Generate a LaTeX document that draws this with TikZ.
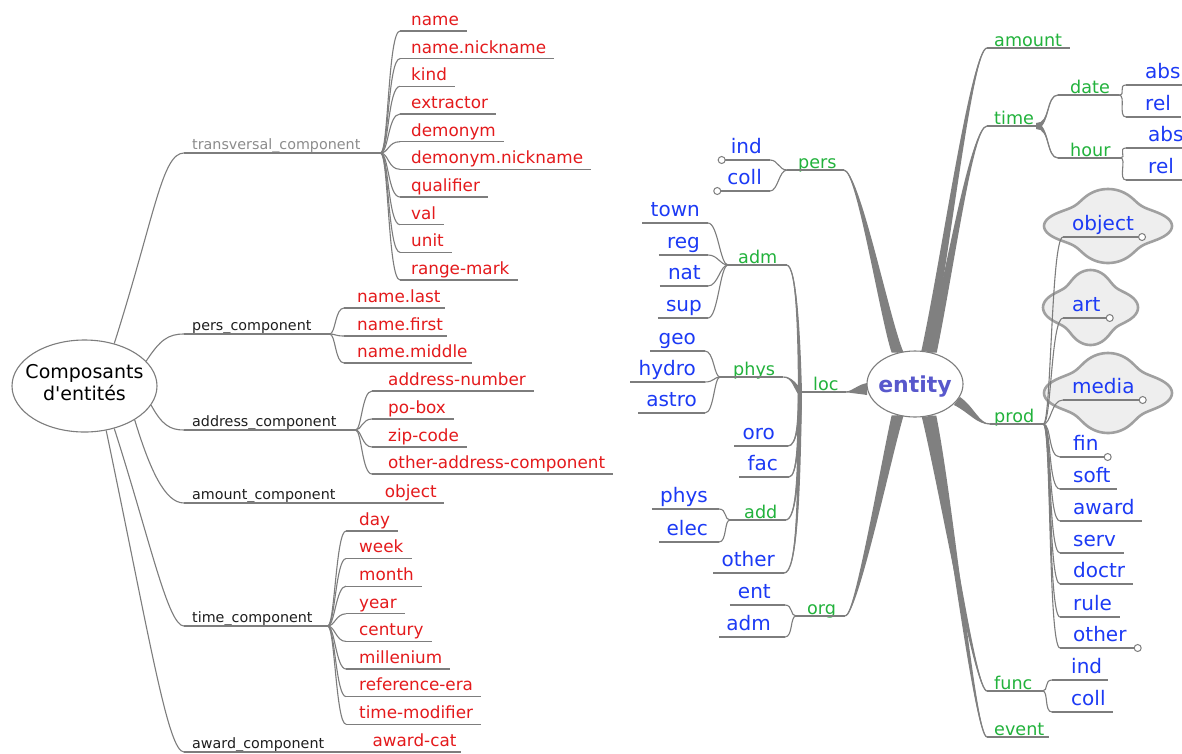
\documentclass[tikz,border=0pt]{standalone}
\usepackage{fontspec}
\setmainfont{DejaVu Sans}
\usetikzlibrary{calc,shapes.geometric}
\pgfdeclarelayer{bg}
\pgfsetlayers{bg,main}
\definecolor{lred}{RGB}{228,26,28}
\definecolor{lgreen}{RGB}{34,178,60}
\definecolor{lblue}{RGB}{28,58,245}
\definecolor{lblack}{RGB}{30,30,30}
\definecolor{tgray}{RGB}{140,140,140}
\definecolor{lgray}{RGB}{125,125,125}
\definecolor{cgray}{RGB}{128,128,128}
\definecolor{entc}{RGB}{88,88,204}
\definecolor{cloudfill}{RGB}{238,238,238}
\definecolor{cloudline}{RGB}{160,160,160}
\tikzset{
  pads/.style 2 args={execute at begin node={\hspace*{#1pt}}, execute at end node={\hspace*{#2pt}}},
  lblbase/.style={inner xsep=0pt, text depth=0pt},
  redl/.style={lblbase, text=lred, font=\fontsize{16.8}{19}\selectfont, inner ysep=5.5pt},
  blkl/.style={lblbase, text=lblack, font=\fontsize{14.3}{17}\selectfont, inner ysep=3pt},
  grnl/.style={lblbase, text=lgreen, font=\fontsize{17.6}{20}\selectfont, inner ysep=1.5pt},
  blul/.style={lblbase, text=lblue, font=\fontsize{20}{23}\selectfont, inner ysep=6.5pt},
  ul/.style={draw=lgray, line width=1.1pt},
  link/.style={draw=lgray, line width=1.1pt},
  conn/.style={fill=cgray},
  connl/.style={draw=cgray, line width=1.3pt},
  fold/.style={draw=lgray, fill=white, line width=1pt},
  cloudst/.style={fill=cloudfill, draw=cloudline, line width=2.6pt, line join=round},
}
% label node with underline
\newcommand\lab[6]{%
  \node[#1, anchor=#2, pads=#5] (#3) at #4 {#6};
  \draw[ul] (#3.south west) -- (#3.south east);
}
% tapered connector, thick at #1
\newcommand\taper[5]{%
  \fill[conn] ($#1+#5$) .. controls ($#2+0.75*#5$) and ($#3+0.25*#5$) .. #4
     .. controls ($#3-0.25*#5$) and ($#2-0.75*#5$) .. ($#1-#5$) -- cycle;
  \draw[connl] #1 .. controls #2 and #3 .. #4;
}
% four-lobed cloud outline: centre, half width, half height
\newcommand\cloudblob[4]{%
 \filldraw[cloudst] plot[domain=0:360, samples=145, smooth cycle]
   ({#1+#3*cos(\x)*(1+0.14*cos(4*\x))/1.14}, {#2+#4*sin(\x)*(1+0.14*cos(4*\x))/1.14});
}
\begin{document}
\begin{tikzpicture}[x=1pt,y=-1pt]
\begin{pgfonlayer}{bg}
\fill[white] (0,0) rectangle (1182,753);
\end{pgfonlayer}
\useasboundingbox (0,0) rectangle (1182,753);

% ================= LEFT MAP =================
\node[ellipse, draw=lgray, fill=white, line width=1.1pt, minimum width=145pt, minimum height=92pt,
      inner xsep=-8pt, inner ysep=0pt, align=center, text depth=6.4pt, font=\fontsize{19}{22}\selectfont, text=black]
      (root) at (84.5,386) {Composants\\d\textquotesingle entités};

\lab{blkl,text=tgray}{south west}{trans}{(184,153)}{{8}{20}}{transversal\_component}
\lab{blkl}{south west}{pcomp}{(184,334)}{{8}{18}}{pers\_component}
\lab{blkl}{south west}{acomp}{(184,430)}{{8}{19}}{address\_component}
\lab{blkl}{south west}{amcomp}{(184,503)}{{8}{22}}{amount\_component}
\lab{blkl}{south west}{tcomp}{(184,626)}{{8}{15}}{time\_component}
\lab{blkl}{south west}{awcomp}{(184,752)}{{8}{20}}{award\_component}

\lab{redl}{south west}{t1}{(400,31)}{{11}{8}}{name}
\lab{redl}{south west}{t2}{(400,58.7)}{{11}{8}}{name.nickname}
\lab{redl}{south west}{t3}{(400,86.3)}{{11}{8}}{kind}
\lab{redl}{south west}{t4}{(400,114)}{{11}{8}}{extractor}
\lab{redl}{south west}{t5}{(400,141.7)}{{11}{8}}{demonym}
\lab{redl}{south west}{t6}{(400,169.3)}{{11}{8}}{demonym.nickname}
\lab{redl}{south west}{t7}{(400,197)}{{11}{8}}{qualifier}
\lab{redl}{south west}{t8}{(400,224.7)}{{11}{8}}{val}
\lab{redl}{south west}{t9}{(400,252.3)}{{11}{8}}{unit}
\lab{redl}{south west}{t10}{(400,280)}{{11}{8}}{range-mark}

\lab{redl}{south west}{p1}{(344,308)}{{13}{4}}{name.last}
\lab{redl}{south west}{p2}{(344,336)}{{13}{4}}{name.first}
\lab{redl}{south west}{p3}{(344,363)}{{13}{4}}{name.middle}

\lab{redl}{south west}{a1}{(372,391)}{{16}{8}}{address-number}
\lab{redl}{south west}{a2}{(372,419)}{{16}{8}}{po-box}
\lab{redl}{south west}{a3}{(372,447)}{{16}{8}}{zip-code}
\lab{redl}{south west}{a4}{(372,474)}{{16}{8}}{other-address-component}

\lab{redl}{south west}{amobj}{(amcomp.south east)}{{27}{7}}{object}

\lab{redl}{south west}{c1}{(346,531)}{{13}{8}}{day}
\lab{redl}{south west}{c2}{(346,558.6)}{{13}{8}}{week}
\lab{redl}{south west}{c3}{(346,586.2)}{{13}{8}}{month}
\lab{redl}{south west}{c4}{(346,613.8)}{{13}{8}}{year}
\lab{redl}{south west}{c5}{(346,641.4)}{{13}{8}}{century}
\lab{redl}{south west}{c6}{(346,669)}{{13}{8}}{millenium}
\lab{redl}{south west}{c7}{(346,696.6)}{{13}{8}}{reference-era}
\lab{redl}{south west}{c8}{(346,724.2)}{{13}{8}}{time-modifier}

\lab{redl}{south west}{awcat}{(awcomp.south east)}{{28}{4}}{award-cat}

% ================= RIGHT MAP =================
\node[ellipse, draw=lgray, fill=white, line width=1.1pt, minimum width=96pt, minimum height=66pt,
      inner xsep=-4pt, inner ysep=0pt, text depth=0pt, font=\bfseries\fontsize{22}{24}\selectfont, text=entc]
      (entity) at (915,384) {entity};

\begin{pgfonlayer}{bg}
\cloudblob{1108}{226}{64}{37}
\cloudblob{1090.5}{307.5}{47.5}{37.5}
\cloudblob{1108}{393}{64}{40}
\end{pgfonlayer}

\lab{grnl}{south west}{amount}{(987,48)}{{7}{8}}{amount}
\lab{grnl}{south west}{time}{(987,126)}{{7}{2}}{time}
\lab{grnl}{south west}{date}{(1058,95)}{{12}{9}}{date}
\lab{grnl}{south west}{hour}{(1058,158)}{{12}{10}}{hour}
\lab{grnl}{south west}{pers}{(787,170)}{{11}{7}}{pers}
\lab{grnl}{south west}{adm}{(728,265)}{{10}{9}}{adm}
\lab{grnl}{south west}{loc}{(807,392)}{{6}{7}}{loc}
\lab{grnl}{south west}{phys}{(720,377)}{{13}{8}}{phys}
\lab{grnl}{south west}{add}{(730,520)}{{14}{8}}{add}
\lab{grnl}{south west}{org}{(796,616)}{{11}{9}}{org}
\lab{grnl}{south west}{prod}{(990,424)}{{4}{9}}{prod}
\lab{grnl}{south west}{func}{(987,691)}{{7}{10}}{func}
\lab{grnl}{south west}{event}{(987,737)}{{7}{4}}{event}

\lab{blul}{south east}{pind}{(770,160)}{{9}{8}}{ind}
\lab{blul}{south east}{pcoll}{(770,191)}{{10}{8}}{coll}
\lab{blul}{south east}{town}{(708,223)}{{8}{8}}{town}
\lab{blul}{south east}{reg}{(708,255)}{{8}{8}}{reg}
\lab{blul}{south east}{nat}{(708,286)}{{8}{7}}{nat}
\lab{blul}{south east}{sup}{(708,318)}{{8}{6}}{sup}
\lab{blul}{south east}{geo}{(705,351)}{{8}{9}}{geo}
\lab{blul}{south east}{hydro}{(705,382)}{{8}{9}}{hydro}
\lab{blul}{south east}{astro}{(705,413)}{{8}{8}}{astro}
\lab{blul}{south east}{oro}{(788,446)}{{8}{13}}{oro}
\lab{blul}{south east}{fac}{(789,477)}{{8}{11}}{fac}
\lab{blul}{south east}{aphys}{(719,509)}{{8}{11}}{phys}
\lab{blul}{south east}{elec}{(719,542)}{{7}{11}}{elec}
\lab{blul}{south east}{lother}{(784,573)}{{8}{9}}{other}
\lab{blul}{south east}{ent}{(785,605)}{{8}{14}}{ent}
\lab{blul}{south east}{oadm}{(785,637)}{{7}{14}}{adm}

\lab{blul}{south west}{dabs}{(1126,85)}{{19}{3}}{abs}
\lab{blul}{south west}{drel}{(1126,117)}{{19}{10}}{rel}
\lab{blul}{south west}{habs}{(1126,148)}{{22}{0}}{abs}
\lab{blul}{south west}{hrel}{(1126,180)}{{22}{10}}{rel}
\lab{blul}{south west}{object}{(1063,237)}{{9}{8}}{object}
\lab{blul}{south west}{art}{(1063,318)}{{9}{9}}{art}
\lab{blul}{south west}{media}{(1063,400)}{{9}{8}}{media}
\lab{blul}{south west}{fin}{(1060,457)}{{13}{9}}{fin}
\lab{blul}{south west}{soft}{(1060,489)}{{13}{6}}{soft}
\lab{blul}{south west}{award}{(1060,521)}{{13}{7}}{award}
\lab{blul}{south west}{serv}{(1060,553)}{{13}{8}}{serv}
\lab{blul}{south west}{doctr}{(1060,584)}{{13}{8}}{doctr}
\lab{blul}{south west}{rule}{(1060,617)}{{13}{8}}{rule}
\lab{blul}{south west}{rother}{(1060,648)}{{13}{11}}{other}
\lab{blul}{south west}{find}{(1052,680)}{{19}{6}}{ind}
\lab{blul}{south west}{fcoll}{(1052,712)}{{19}{7}}{coll}

\coordinate (locj) at ([xshift=-7pt]loc.south west);

% ================= CONNECTORS =================
\begin{pgfonlayer}{bg}
% left map
\draw[link] (root.55) .. controls (155,215) and (162,153) .. (trans.south west);
\draw[link] (root.22) .. controls (160,340) and (168,334) .. (pcomp.south west);
\draw[link] (root.-16) .. controls (162,425) and (170,430) .. (acomp.south west);
\draw[link] (root.-34.5) .. controls (150,470) and (165,503) .. (amcomp.south west);
\draw[link] (root.-55) .. controls (150,540) and (168,626) .. (tcomp.south west);
\draw[link] (root.-64) .. controls (150,640) and (168,752) .. (awcomp.south west);
\foreach \i in {1,...,10}
  \draw[link] (trans.south east) .. controls +(8,0) and +(-12,0) .. (t\i.south west);
\foreach \i in {1,2,3}
  \draw[link] (pcomp.south east) .. controls +(6,0) and +(-9,0) .. (p\i.south west);
\foreach \i in {1,...,4}
  \draw[link] (acomp.south east) .. controls +(6,0) and +(-10,0) .. (a\i.south west);
\foreach \i in {1,...,8}
  \draw[link] (tcomp.south east) .. controls +(7,0) and +(-10,0) .. (c\i.south west);
\draw[link] (amcomp.south east) -- (amobj.south west);
\draw[link] (awcomp.south east) -- (awcat.south west);

% right map: thick connectors from entity
\taper{(entity.119)}{(885,320)}{(858,170)}{(pers.south east)}{(6,0)}
\taper{(entity.71)}{(945,260)}{(972,48)}{(amount.south west)}{(5,0)}
\taper{(entity.62)}{(950,270)}{(972,126)}{(time.south west)}{(5,0)}
\taper{(entity.186)}{(858,389)}{(853,392)}{(loc.south east)}{(0,6)}
\taper{(entity.-22)}{(972,410)}{(978,424)}{(prod.south west)}{(3,-4)}
\taper{(entity.-119)}{(886,460)}{(856,616)}{(org.south east)}{(6,0)}
\taper{(entity.-71)}{(945,500)}{(975,691)}{(func.south west)}{(4.5,0)}
\taper{(entity.-62)}{(950,500)}{(975,737)}{(event.south west)}{(4.5,0)}
% time fan
\taper{(time.south east)}{(1050,126)}{(1046,95)}{(date.south west)}{(0,3)}
\taper{(time.south east)}{(1050,126)}{(1046,158)}{(hour.south west)}{(0,3)}
% loc fan
\draw[link] (locj) -- (loc.south west);
\taper{(locj)}{(799,340)}{(797,265)}{(adm.south east)}{(2,0)}
\taper{(locj)}{(795,386)}{(792,377)}{(phys.south east)}{(2,-2)}
\taper{(locj)}{(799,420)}{(797,446)}{(oro.south east)}{(2,0)}
\taper{(locj)}{(799,440)}{(797,477)}{(fac.south east)}{(2,0)}
\taper{(locj)}{(799,470)}{(797,520)}{(add.south east)}{(2,0)}
\taper{(locj)}{(799,500)}{(797,573)}{(lother.south east)}{(2,0)}
% thin fans
\foreach \c in {dabs,drel}
  \draw[link] (date.south east) .. controls +(7,0) and +(-8,0) .. (\c.south west);
\foreach \c in {habs,hrel}
  \draw[link] (hour.south east) .. controls +(6,0) and +(-8,0) .. (\c.south west);
\foreach \c in {pind,pcoll}
  \draw[link] (pers.south west) .. controls +(-8,0) and +(8,0) .. (\c.south east);
\foreach \c in {town,reg,nat,sup}
  \draw[link] (adm.south west) .. controls +(-8,0) and +(10,0) .. (\c.south east);
\foreach \c in {geo,hydro,astro}
  \draw[link] (phys.south west) .. controls +(-6,0) and +(9,0) .. (\c.south east);
\foreach \c in {aphys,elec}
  \draw[link] (add.south west) .. controls +(-6,0) and +(8,0) .. (\c.south east);
\foreach \c in {ent,oadm}
  \draw[link] (org.south west) .. controls +(-6,0) and +(8,0) .. (\c.south east);
\foreach \c in {object,art,media,fin,soft,award,serv,doctr,rule,rother}
  \draw[link] (prod.south east) .. controls +(8,0) and +(-12,0) .. (\c.south west);
\foreach \c in {find,fcoll}
  \draw[link] (func.south east) .. controls +(6,0) and +(-8,0) .. (\c.south west);
\end{pgfonlayer}

% folded markers
\draw[fold] (pind.south west) circle[radius=3.5];
\draw[fold] (pcoll.south west) circle[radius=3.5];
\draw[fold] (object.south east) circle[radius=3.5];
\draw[fold] (art.south east) circle[radius=3.5];
\draw[fold] (media.south east) circle[radius=3.5];
\draw[fold] (fin.south east) circle[radius=3.5];
\draw[fold] (rother.south east) circle[radius=3.5];
\end{tikzpicture}
\end{document}
